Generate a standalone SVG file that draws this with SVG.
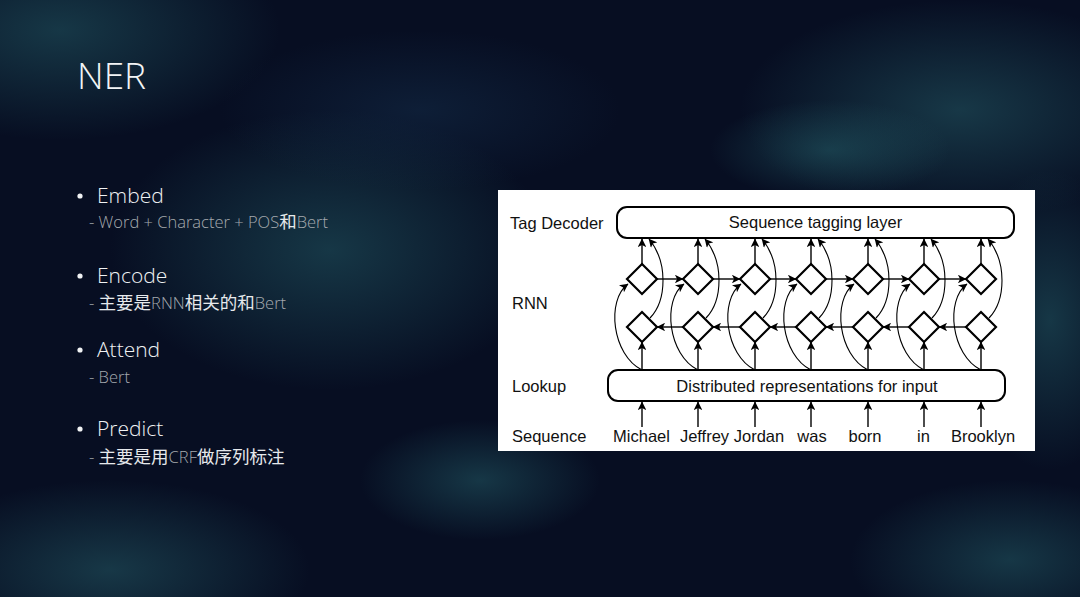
<svg xmlns="http://www.w3.org/2000/svg" width="1080" height="597" viewBox="0 0 1080 597">
<defs>
<radialGradient id="g1" cx="0.5" cy="0.5" r="0.5">
<stop offset="0" stop-color="#25606a" stop-opacity="0.5"/>
<stop offset="1" stop-color="#25606a" stop-opacity="0"/>
</radialGradient>
<radialGradient id="g2" cx="0.5" cy="0.5" r="0.5">
<stop offset="0" stop-color="#2b6b74" stop-opacity="0.45"/>
<stop offset="1" stop-color="#2b6b74" stop-opacity="0"/>
</radialGradient>
<radialGradient id="g3" cx="0.5" cy="0.5" r="0.5">
<stop offset="0" stop-color="#163250" stop-opacity="0.45"/>
<stop offset="1" stop-color="#163250" stop-opacity="0"/>
</radialGradient>
<marker id="ah" viewBox="0 0 10 10" refX="9.5" refY="5" markerWidth="10" markerHeight="8.5" markerUnits="userSpaceOnUse" orient="auto">
<path d="M0,0 L10,5 L0,10 L2.5,5 z" fill="#000"/>
</marker>
<style>
.title{font-family:"Open Sans","Liberation Sans",sans-serif;font-weight:300;fill:#f2f4f5;}
.head{font-family:"Open Sans","Liberation Sans",sans-serif;font-weight:300;fill:#f0f2f4;font-size:21px;}
.sub{font-family:"Open Sans","Noto Sans CJK SC",sans-serif;font-weight:300;fill:#a4a9ae;font-size:16.5px;}
.cjk{font-family:"Noto Sans CJK SC",sans-serif;font-weight:400;fill:#e6e9ec;font-size:17.5px;}
.lbl{font-family:"Liberation Sans",Arial,sans-serif;font-size:16.5px;fill:#111;}
.box{fill:#fff;stroke:#000;stroke-width:2;}
.dia{fill:#fff;stroke:#000;stroke-width:2.2;}
.ar{fill:none;stroke:#000;stroke-width:1.4;marker-end:url(#ah);}
.cv{fill:none;stroke:#000;stroke-width:1.1;marker-end:url(#ah);}
</style>
</defs>

<!-- background -->
<g id="background">
<rect x="0" y="0" width="1080" height="597" fill="#070e22"/>
<ellipse cx="60" cy="30" rx="220" ry="110" fill="url(#g1)"/>
<ellipse cx="330" cy="250" rx="220" ry="140" fill="url(#g1)"/>
<ellipse cx="420" cy="110" rx="200" ry="80" fill="url(#g3)"/>
<ellipse cx="960" cy="110" rx="220" ry="110" fill="url(#g2)"/>
<ellipse cx="830" cy="150" rx="120" ry="50" fill="url(#g1)"/>
<ellipse cx="1050" cy="320" rx="90" ry="150" fill="url(#g1)"/>
<ellipse cx="110" cy="570" rx="200" ry="90" fill="url(#g2)"/>
<ellipse cx="480" cy="480" rx="120" ry="60" fill="url(#g1)"/>
<ellipse cx="1010" cy="560" rx="160" ry="80" fill="url(#g1)"/>
</g>

<!-- slide text -->
<g id="slide-text">
<text class="title" x="77" y="89" font-size="37">NER</text>
<circle cx="80" cy="196" r="2.6" fill="#f0f2f4"/>
<text class="head" x="97" y="203">Embed</text>
<text class="sub" x="89" y="228">- Word + Character + POS<tspan class="cjk">和</tspan>Bert</text>
<circle cx="80" cy="276" r="2.6" fill="#f0f2f4"/>
<text class="head" x="97" y="283">Encode</text>
<text class="sub" x="89" y="309">- <tspan class="cjk">主要是</tspan>RNN<tspan class="cjk">相关的和</tspan>Bert</text>
<circle cx="80" cy="350" r="2.6" fill="#f0f2f4"/>
<text class="head" x="97" y="357">Attend</text>
<text class="sub" x="89" y="383">- Bert</text>
<circle cx="80" cy="429" r="2.6" fill="#f0f2f4"/>
<text class="head" x="97" y="436">Predict</text>
<text class="sub" x="89" y="463">- <tspan class="cjk">主要是用</tspan>CRF<tspan class="cjk">做序列标注</tspan></text>
</g>

<!-- diagram panel -->
<rect id="panel" x="498" y="190" width="537" height="261" fill="#fff"/>

<g id="row-labels">
<text class="lbl" x="510" y="229" font-size="17.2">Tag Decoder</text>
<text class="lbl" x="512" y="309">RNN</text>
<text class="lbl" x="512" y="392">Lookup</text>
<text class="lbl" x="512" y="442">Sequence</text>
</g>

<g id="tag-decoder">
<rect class="box" x="617" y="207" width="397" height="31" rx="10"/>
<text class="lbl" x="815.5" y="228" text-anchor="middle" font-size="17.2">Sequence tagging layer</text>
</g>

<g id="lookup">
<rect class="box" x="608" y="370" width="397" height="31" rx="10"/>
<text class="lbl" x="807" y="392" text-anchor="middle" font-size="17">Distributed representations for input</text>
</g>

<g id="words">
<text class="lbl" x="641.5" y="442" text-anchor="middle">Michael</text>
<text class="lbl" x="704.5" y="442" text-anchor="middle">Jeffrey</text>
<text class="lbl" x="759" y="442" text-anchor="middle">Jordan</text>
<text class="lbl" x="812" y="442" text-anchor="middle">was</text>
<text class="lbl" x="865" y="442" text-anchor="middle">born</text>
<text class="lbl" x="923.5" y="442" text-anchor="middle">in</text>
<text class="lbl" x="983" y="442" text-anchor="middle">Brooklyn</text>
</g>

<g id="connectors">
<!-- sequence to lookup -->
<path class="ar" d="M642,427 V402"/>
<path class="ar" d="M698,427 V402"/>
<path class="ar" d="M755,427 V402"/>
<path class="ar" d="M811,427 V402"/>
<path class="ar" d="M868,427 V402"/>
<path class="ar" d="M924,427 V402"/>
<path class="ar" d="M981,427 V402"/>
<!-- lookup to lower diamonds -->
<path class="ar" d="M642,370 V342"/>
<path class="ar" d="M698,370 V342"/>
<path class="ar" d="M755,370 V342"/>
<path class="ar" d="M811,370 V342"/>
<path class="ar" d="M868,370 V342"/>
<path class="ar" d="M924,370 V342"/>
<path class="ar" d="M981,370 V342"/>
<!-- upper diamonds to tag decoder -->
<path class="ar" d="M642,264 V239"/>
<path class="ar" d="M698,264 V239"/>
<path class="ar" d="M755,264 V239"/>
<path class="ar" d="M811,264 V239"/>
<path class="ar" d="M868,264 V239"/>
<path class="ar" d="M924,264 V239"/>
<path class="ar" d="M981,264 V239"/>
<!-- forward (upper) -->
<path class="ar" d="M657,279 H683"/>
<path class="ar" d="M713,279 H740"/>
<path class="ar" d="M770,279 H796"/>
<path class="ar" d="M826,279 H853"/>
<path class="ar" d="M883,279 H909"/>
<path class="ar" d="M939,279 H966"/>
<!-- backward (lower) -->
<path class="ar" d="M683,327 H657"/>
<path class="ar" d="M740,327 H713"/>
<path class="ar" d="M796,327 H770"/>
<path class="ar" d="M853,327 H826"/>
<path class="ar" d="M909,327 H883"/>
<path class="ar" d="M966,327 H939"/>
<!-- lookup to upper diamonds (left curves) -->
<path class="cv" d="M642,370 C612,355 606,300 628,284"/>
<path class="cv" d="M698,370 C668,355 662,300 684,284"/>
<path class="cv" d="M755,370 C725,355 719,300 741,284"/>
<path class="cv" d="M811,370 C781,355 775,300 797,284"/>
<path class="cv" d="M868,370 C838,355 832,300 854,284"/>
<path class="cv" d="M924,370 C894,355 888,300 910,284"/>
<path class="cv" d="M981,370 C951,355 945,300 967,284"/>
<!-- lower diamonds to tag decoder (right curves) -->
<path class="cv" d="M650,318 C667,300 668,262 649,239"/>
<path class="cv" d="M706,318 C723,300 724,262 705,239"/>
<path class="cv" d="M763,318 C780,300 781,262 762,239"/>
<path class="cv" d="M819,318 C836,300 837,262 818,239"/>
<path class="cv" d="M876,318 C893,300 894,262 875,239"/>
<path class="cv" d="M932,318 C949,300 950,262 931,239"/>
<path class="cv" d="M989,318 C1006,300 1007,262 988,239"/>
</g>

<g id="rnn-forward">
<path class="dia" d="M642,264 L657,279 L642,294 L627,279 Z"/>
<path class="dia" d="M698,264 L713,279 L698,294 L683,279 Z"/>
<path class="dia" d="M755,264 L770,279 L755,294 L740,279 Z"/>
<path class="dia" d="M811,264 L826,279 L811,294 L796,279 Z"/>
<path class="dia" d="M868,264 L883,279 L868,294 L853,279 Z"/>
<path class="dia" d="M924,264 L939,279 L924,294 L909,279 Z"/>
<path class="dia" d="M981,264 L996,279 L981,294 L966,279 Z"/>
</g>
<g id="rnn-backward">
<path class="dia" d="M642,312 L657,327 L642,342 L627,327 Z"/>
<path class="dia" d="M698,312 L713,327 L698,342 L683,327 Z"/>
<path class="dia" d="M755,312 L770,327 L755,342 L740,327 Z"/>
<path class="dia" d="M811,312 L826,327 L811,342 L796,327 Z"/>
<path class="dia" d="M868,312 L883,327 L868,342 L853,327 Z"/>
<path class="dia" d="M924,312 L939,327 L924,342 L909,327 Z"/>
<path class="dia" d="M981,312 L996,327 L981,342 L966,327 Z"/>
</g>
</svg>
